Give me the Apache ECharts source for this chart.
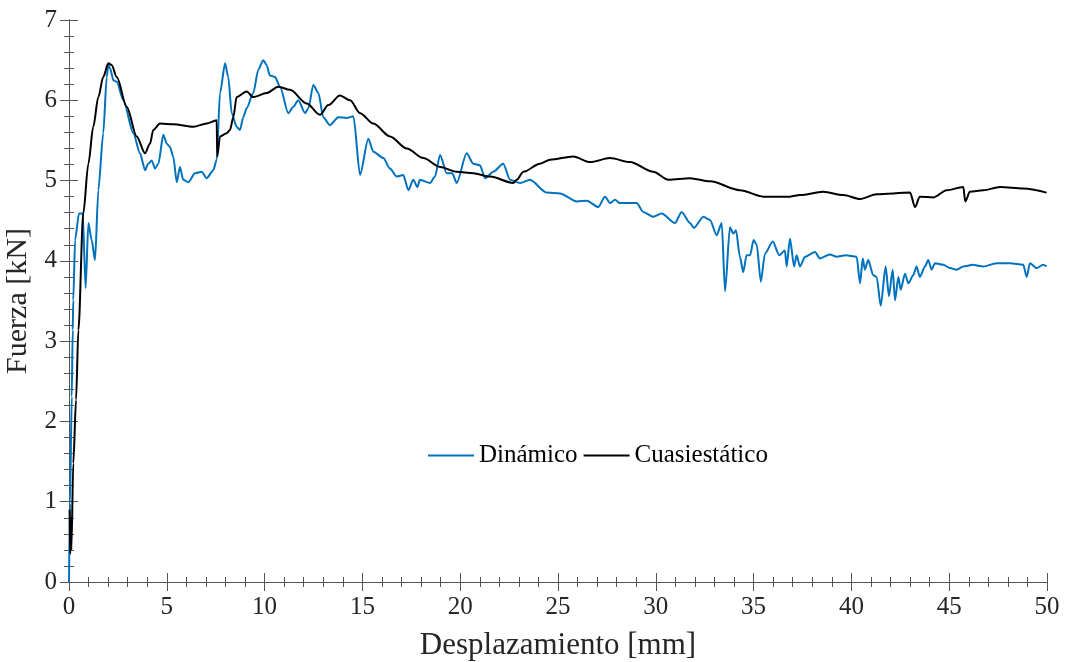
<!DOCTYPE html>
<html>
<head>
<meta charset="utf-8">
<script src="https://cdn.jsdelivr.net/npm/echarts@6/dist/echarts.min.js"></script>
<style>
  html, body { margin: 0; padding: 0; background: #fff; }
  #chart { width: 1065px; height: 662px; }
</style>
</head>
<body>
<div id="chart"></div>
<script>
// Displacement [mm] and force [kN] for the dynamic test
const dinX = [0, 0.05, 0.14, 0.19, 0.22, 0.31, 0.51, 0.70, 0.85, 0.99, 1.16, 1.33, 1.50, 1.75, 1.93, 2.01, 2.10, 2.27, 2.44, 2.78,
  3.29, 3.63, 3.89, 4.05, 4.23, 4.40, 4.57, 4.82, 5.00, 5.16, 5.33, 5.51, 5.67, 5.84, 6.10, 6.44, 6.78, 7.04, 7.38, 7.55,
  7.72, 7.98, 8.14, 8.32, 8.57, 8.74, 8.91, 9.08, 9.42, 9.68, 9.93, 10.10, 10.27, 10.53, 10.79, 11.21, 11.47, 11.72, 12.07, 12.24,
  12.49, 12.75, 13.00, 13.34, 13.77, 14.20, 14.54, 14.88, 15.30, 15.56, 16.07, 16.41, 16.75, 17.09, 17.35, 17.60, 17.81, 17.94, 18.46, 18.71,
  18.97, 19.31, 19.60, 19.82, 20.33, 20.67, 21.01, 21.27, 21.69, 22.20, 22.55, 23.06, 23.57, 24.42, 25.10, 25.96, 26.47, 27.06, 27.40, 27.66,
  27.91, 28.17, 29.02, 29.36, 29.87, 30.30, 30.98, 31.32, 31.75, 31.95, 32.43, 32.77, 33.11, 33.37, 33.54, 33.79, 33.96, 34.10, 34.30, 34.47,
  34.64, 34.82, 35.00, 35.16, 35.37, 35.58, 35.98, 36.31, 36.60, 36.69, 36.86, 37.07, 37.20, 37.37, 37.63, 38.14, 38.39, 38.90, 39.25, 39.70,
  40.27, 40.44, 40.58, 40.69, 40.86, 41.12, 41.29, 41.50, 41.75, 41.92, 42.11, 42.23, 42.40, 42.52, 42.74, 42.91, 43.16, 43.33, 43.50, 43.76,
  43.93, 44.10, 44.27, 44.70, 45.04, 45.38, 45.72, 46.20, 46.74, 47.42, 48.11, 48.79, 48.96, 49.13, 49.47, 49.80, 49.98];
const dinY = [0, 0.98, 2.31, 3.14, 3.51, 4.26, 4.59, 4.59, 3.66, 4.47, 4.26, 4.01, 4.88, 5.59, 6.29, 6.44, 6.40, 6.25, 6.23, 6.00,
  5.59, 5.34, 5.13, 5.21, 5.25, 5.15, 5.21, 5.57, 5.46, 5.42, 5.30, 4.98, 5.17, 5.01, 4.98, 5.09, 5.11, 5.03, 5.13, 5.26,
  6.09, 6.46, 6.29, 5.84, 5.67, 5.63, 5.79, 5.90, 6.09, 6.38, 6.50, 6.44, 6.31, 6.29, 6.17, 5.84, 5.92, 6.00, 5.84, 5.90,
  6.19, 6.09, 5.79, 5.69, 5.79, 5.78, 5.80, 5.07, 5.52, 5.36, 5.28, 5.15, 5.05, 5.07, 4.88, 5.01, 4.92, 5.01, 4.97, 5.05,
  5.32, 5.09, 5.09, 4.97, 5.34, 5.21, 5.19, 5.03, 5.11, 5.21, 5.01, 4.97, 5.01, 4.85, 4.84, 4.74, 4.75, 4.67, 4.80, 4.72,
  4.76, 4.72, 4.72, 4.61, 4.55, 4.59, 4.47, 4.61, 4.47, 4.41, 4.55, 4.51, 4.32, 4.47, 3.62, 4.42, 4.34, 4.38, 4.05, 3.86,
  4.07, 4.07, 4.26, 4.20, 3.74, 4.09, 4.24, 4.07, 4.13, 3.93, 4.28, 3.93, 4.07, 3.93, 4.05, 4.11, 4.03, 4.08, 4.05, 4.07,
  4.05, 3.72, 4.03, 3.89, 4.01, 3.82, 3.80, 3.44, 3.93, 3.56, 3.89, 3.51, 3.80, 3.64, 3.84, 3.72, 3.82, 3.93, 3.80, 3.93,
  4.01, 3.89, 3.97, 3.95, 3.91, 3.89, 3.93, 3.95, 3.93, 3.97, 3.97, 3.95, 3.80, 3.97, 3.91, 3.95, 3.93];

// Displacement [mm] and force [kN] for the quasi-static test
const cuaX = [0.03, 0.06, 0.09, 0.12, 0.22, 0.36, 0.48, 0.73, 0.99, 1.24, 1.50, 1.75, 2.01, 2.18, 2.44, 2.95, 3.46, 3.89, 4.14, 4.31,
  4.65, 5.33, 6.36, 7.04, 7.55, 7.58, 7.72, 8.06, 8.23, 8.40, 8.57, 9.08, 9.42, 10.10, 10.70, 11.30, 12.15, 12.83, 13.26, 13.85,
  14.37, 14.88, 15.56, 16.41, 17.27, 18.11, 18.97, 19.82, 20.67, 21.52, 22.71, 22.89, 23.23, 24.08, 24.60, 25.78, 26.64, 27.66, 28.68, 29.87,
  30.64, 31.75, 32.77, 34.30, 35.50, 36.86, 37.37, 38.56, 39.59, 40.44, 41.29, 43.00, 43.25, 43.50, 44.19, 44.87, 45.72, 45.82, 46.06, 46.74,
  47.60, 48.79, 49.98];
const cuaY = [0.90, 0.35, 0.80, 0.40, 1.48, 2.27, 3.14, 4.59, 5.21, 5.67, 6.04, 6.29, 6.46, 6.44, 6.29, 5.92, 5.55, 5.34, 5.46, 5.63,
  5.71, 5.70, 5.67, 5.71, 5.75, 5.30, 5.55, 5.59, 5.63, 5.79, 6.04, 6.11, 6.04, 6.09, 6.17, 6.13, 5.96, 5.82, 5.94, 6.06,
  6.00, 5.84, 5.71, 5.55, 5.40, 5.28, 5.17, 5.11, 5.09, 5.05, 4.97, 5.01, 5.11, 5.21, 5.26, 5.30, 5.23, 5.28, 5.23, 5.11,
  5.01, 5.03, 4.99, 4.88, 4.80, 4.80, 4.82, 4.86, 4.82, 4.77, 4.83, 4.85, 4.67, 4.80, 4.79, 4.88, 4.92, 4.74, 4.86, 4.88,
  4.92, 4.90, 4.85];

const seriesNames = ['Dinámico', 'Cuasiestático'];
const xTitle = 'Desplazamiento [mm]';
const yTitle = 'Fuerza [kN]';

// Axis ranges and tick steps (major / minor)
const xRange = [0, 50], xMajor = 5, xMinor = 1;
const yRange = [0, 7], yMajor = 1, yMinor = 0.2;

const pairs = (xs, ys) => xs.map((x, i) => [x, ys[i]]);

const FONT = '"Liberation Serif", "DejaVu Serif", serif';
const AXIS_COLOR = '#555555';
const TEXT_COLOR = '#262626';
const GRID_BOX = { left: 69, right: 18, top: 20, bottom: 80, containLabel: false, outerBoundsMode: 'none' };

// Boxed axes with inward major ticks
function majorAxis(range, step, position, extra) {
  return Object.assign({
    type: 'value', gridIndex: 0, min: range[0], max: range[1], interval: step, position: position,
    axisLine: { show: true, lineStyle: { color: AXIS_COLOR, width: 1 } },
    axisTick: { show: true, inside: true, length: 9, lineStyle: { color: AXIS_COLOR, width: 1 } },
    axisLabel: { show: false },
    splitLine: { show: false }
  }, extra || {});
}
// Tick-only axes on an overlaid grid for the short inward minor ticks
function minorAxis(range, step, position) {
  return {
    type: 'value', gridIndex: 1, min: range[0], max: range[1], interval: step, position: position,
    axisLine: { show: false },
    axisTick: { show: true, inside: true, length: 5, lineStyle: { color: AXIS_COLOR, width: 1 } },
    axisLabel: { show: false },
    splitLine: { show: false }
  };
}

const labelStyle = { show: true, fontFamily: FONT, fontSize: 25, color: TEXT_COLOR };

const chart = echarts.init(document.getElementById('chart'), null, { renderer: 'canvas' });

chart.setOption({
  backgroundColor: '#ffffff',
  animation: false,
  grid: [Object.assign({}, GRID_BOX), Object.assign({}, GRID_BOX)],
  legend: {
    data: seriesNames,
    left: 423,
    top: 438,
    icon: 'rect',
    itemWidth: 46,
    itemHeight: 2,
    itemGap: 6,
    textStyle: { fontFamily: FONT, fontSize: 25, color: '#000' }
  },
  xAxis: [
    majorAxis(xRange, xMajor, 'bottom', {
      name: xTitle, nameLocation: 'middle', nameGap: 48,
      nameTextStyle: { fontFamily: FONT, fontSize: 31, color: TEXT_COLOR },
      axisLabel: Object.assign({ margin: 13 }, labelStyle)
    }),
    majorAxis(xRange, xMajor, 'top'),
    minorAxis(xRange, xMinor, 'bottom'),
    minorAxis(xRange, xMinor, 'top')
  ],
  yAxis: [
    majorAxis(yRange, yMajor, 'left', {
      name: yTitle, nameLocation: 'middle', nameGap: 29, nameRotate: 90,
      nameTextStyle: { fontFamily: FONT, fontSize: 30, color: TEXT_COLOR },
      axisLabel: Object.assign({ margin: 12 }, labelStyle)
    }),
    majorAxis(yRange, yMajor, 'right'),
    minorAxis(yRange, yMinor, 'left'),
    minorAxis(yRange, yMinor, 'right')
  ],
  series: [
    {
      name: seriesNames[0], type: 'line', xAxisIndex: 0, yAxisIndex: 0,
      data: pairs(dinX, dinY), symbol: 'none', smooth: 0.25, smoothMonotone: 'x',
      lineStyle: { color: '#0072BD', width: 2 }, itemStyle: { color: '#0072BD' }, z: 2
    },
    {
      name: seriesNames[1], type: 'line', xAxisIndex: 0, yAxisIndex: 0,
      data: pairs(cuaX, cuaY), symbol: 'none', smooth: 0.3, smoothMonotone: 'x',
      lineStyle: { color: '#000000', width: 2 }, itemStyle: { color: '#000000' }, z: 3
    }
  ]
});
</script>
</body>
</html>
